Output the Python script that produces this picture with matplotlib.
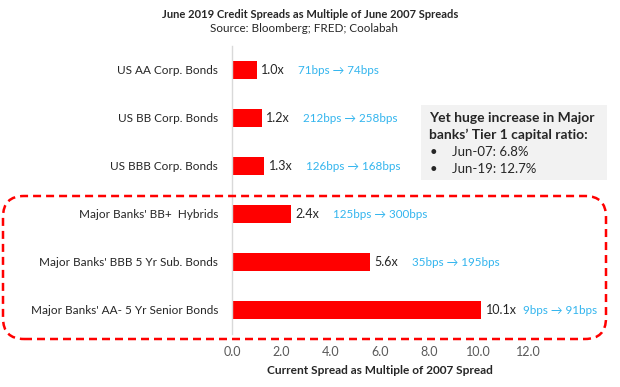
import matplotlib
matplotlib.use("Agg")
import matplotlib.pyplot as plt
from matplotlib.patches import FancyBboxPatch, Rectangle
from matplotlib.transforms import IdentityTransform

plt.rcParams['font.family'] = ['Lato', 'DejaVu Sans']

categories = ["US AA Corp. Bonds", "US BB Corp. Bonds", "US BBB Corp. Bonds",
              "Major Banks' BB+  Hybrids", "Major Banks' BBB 5 Yr Sub. Bonds",
              "Major Banks' AA- 5 Yr Senior Bonds"]
multiples = [1.0, 1.2, 1.3, 2.4, 5.6, 10.1]
spread_2007 = [71, 212, 126, 125, 35, 9]
spread_2019 = [74, 258, 168, 300, 195, 91]
xticks = [0, 2, 4, 6, 8, 10, 12]

W, H = 620, 387
fig = plt.figure(figsize=(6.2, 3.87), dpi=100)

def fx(px):
    return px / W

def fy(py):
    return 1 - py / H

ax = fig.add_axes([fx(232), fy(334), fx(528) - fx(232), fy(46) - fy(334)])
y = list(range(len(categories)))
ax.barh(y, multiples, height=0.39, color='#FF0000')
ax.set_ylim(len(categories) - 0.5, -0.5)
ax.set_xlim(0, 12)
ax.set_yticks(y)
ax.set_yticklabels(categories, fontsize=8.5, color='#262626')
ax.set_xticks(xticks)
ax.set_xticklabels([f"{t:.1f}" for t in xticks], fontsize=9, color='#595959')
ax.tick_params(axis='y', length=0, pad=10)
ax.tick_params(axis='x', length=0, pad=9)
for s in ['top', 'right', 'bottom']:
    ax.spines[s].set_visible(False)
ax.spines['left'].set_color('#D9D9D9')
ax.spines['left'].set_linewidth(1)
ax.set_xlabel("Current Spread as Multiple of 2007 Spread", fontsize=8.6,
              fontweight='bold', color='#262626', labelpad=5)

for yi, m, a, b in zip(y, multiples, spread_2007, spread_2019):
    ax.annotate(f"{m:.1f}x", (m, yi), xytext=(3.2, 0), textcoords='offset points',
                va='center', ha='left', fontsize=9, color='#262626')
    ax.annotate(f"{a}bps \u2192 {b}bps", (m, yi), xytext=(30, 0),
                textcoords='offset points', va='center', ha='left',
                fontsize=8.4, color='#33B5EE', annotation_clip=False)

fig.text(fx(310), fy(15), "June 2019 Credit Spreads as Multiple of June 2007 Spreads",
         ha='center', va='center', fontsize=8, fontweight='bold', color='#262626')
fig.text(fx(304), fy(29), "Source: Bloomberg; FRED; Coolabah",
         ha='center', va='center', fontsize=8.4, color='#262626')

# grey annotation box
fig.patches.append(Rectangle((fx(421), fy(180)), fx(607) - fx(421), fy(105) - fy(180),
                             transform=fig.transFigure, facecolor='#F2F2F2',
                             edgecolor='none', zorder=0))
fig.text(fx(429), fy(118), "Yet huge increase in Major", fontsize=10,
         fontweight='bold', va='center', ha='left', color='#262626')
fig.text(fx(429), fy(135), "banks\u2019 Tier 1 capital ratio:", fontsize=10,
         fontweight='bold', va='center', ha='left', color='#262626')
fig.text(fx(430), fy(152), "\u2022", fontsize=9.5, va='center', ha='left', color='#262626')
fig.text(fx(452), fy(152), "Jun-07: 6.8%", fontsize=9.5, va='center', ha='left', color='#262626')
fig.text(fx(430), fy(169), "\u2022", fontsize=9.5, va='center', ha='left', color='#262626')
fig.text(fx(452), fy(169), "Jun-19: 12.7%", fontsize=9.5, va='center', ha='left', color='#262626')

# dashed rounded rectangle around major banks (pixel coordinates)
x0, x1, ytop, ybot = 3, 606, 196, 339
rect = FancyBboxPatch((x0, H - ybot), x1 - x0, ybot - ytop,
                      boxstyle="round,pad=0,rounding_size=21",
                      transform=IdentityTransform(), facecolor='none',
                      edgecolor='#FF0000', linewidth=1.8, linestyle=(0, (3.2, 2.0)))
fig.patches.append(rect)

fig.savefig("out.png", dpi=100)
